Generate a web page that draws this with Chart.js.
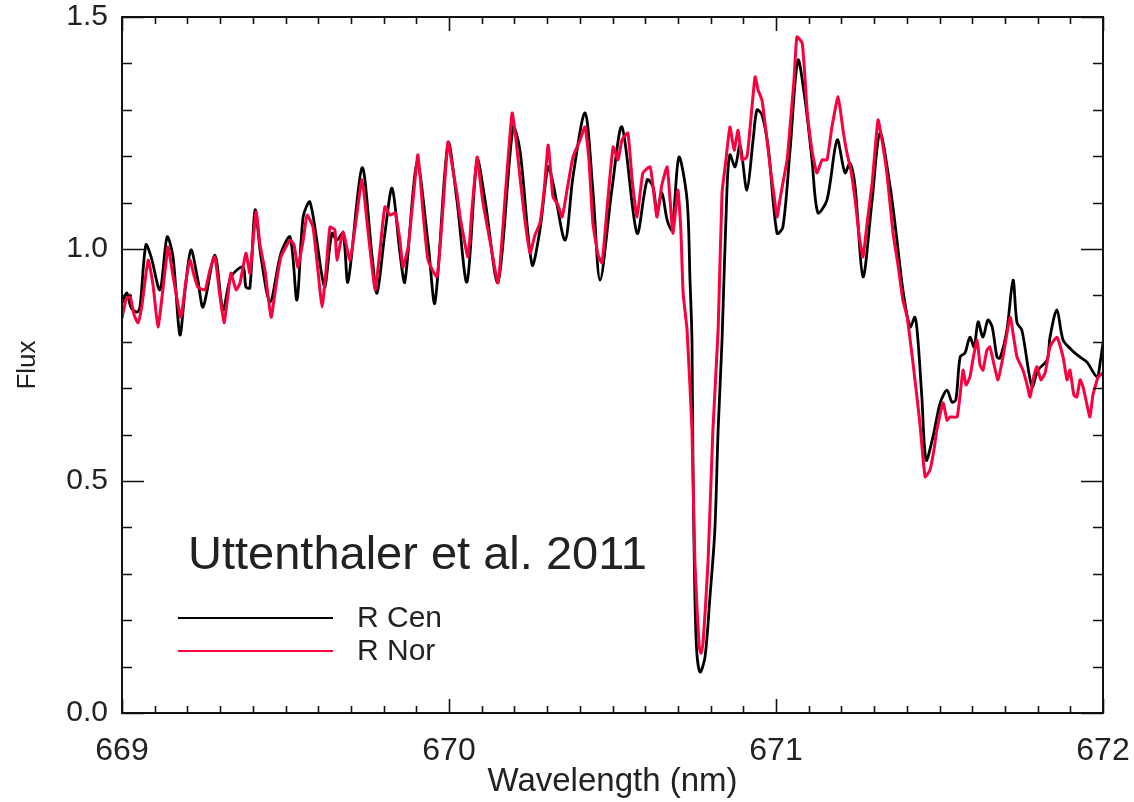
<!DOCTYPE html>
<html>
<head>
<meta charset="utf-8">
<script src="https://cdn.jsdelivr.net/npm/chart.js@4/dist/chart.umd.min.js"></script>
<style>
  body { margin: 0; background: #fff; }
  #wrap { width: 1134px; height: 802px; position: relative; }
</style>
</head>
<body>
<div id="wrap"><canvas id="spectrum"></canvas></div>
<script>
// ------------------ Data ------------------
const xTickLabels = [669, 670, 671, 672];
const yTickLabels = [0.0, 0.5, 1.0, 1.5];
const seriesNames = ['R Cen', 'R Nor'];
const annotationText = 'Uttenthaler et al. 2011';

// R Cen (black)
const cenWave = [
  669.000, 669.015, 669.028, 669.046, 669.055, 669.073, 669.089, 669.116, 669.138, 669.156,
  669.177, 669.193, 669.211, 669.232, 669.248, 669.284, 669.309, 669.333, 669.370, 669.379,
  669.391, 669.407, 669.425, 669.453, 669.486, 669.514, 669.535, 669.554, 669.575, 669.612,
  669.621, 669.642, 669.657, 669.676, 669.691, 669.734, 669.765, 669.780, 669.804, 669.826,
  669.850, 669.865, 669.902, 669.936, 669.957, 669.997, 670.024, 670.055, 670.086, 670.110,
  670.150, 670.196, 670.217, 670.254, 670.278, 670.303, 670.318, 670.355, 670.379, 670.416,
  670.440, 670.462, 670.498, 670.529, 670.575, 670.606, 670.624, 670.636, 670.651, 670.667,
  670.682, 670.703, 670.728, 670.737, 670.743, 670.746, 670.752, 670.758, 670.768, 670.783,
  670.798, 670.813, 670.823, 670.835, 670.850, 670.859, 670.875, 670.890, 670.911, 670.930,
  670.942, 670.957, 670.976, 671.003, 671.021, 671.043, 671.067, 671.089, 671.110, 671.128,
  671.156, 671.187, 671.211, 671.226, 671.242, 671.266, 671.294, 671.318, 671.349, 671.370,
  671.388, 671.410, 671.425, 671.434, 671.446, 671.459, 671.480, 671.502, 671.523, 671.538,
  671.550, 671.563, 671.578, 671.593, 671.606, 671.618, 671.633, 671.648, 671.661, 671.676,
  671.685, 671.706, 671.725, 671.737, 671.752, 671.783, 671.801, 671.829, 671.838, 671.859,
  671.878, 671.905, 671.930, 671.951, 671.982, 671.991, 672.000
];
const cenFlux = [
  0.884, 0.905, 0.873, 0.864, 0.875, 1.009, 0.983, 0.912, 1.026, 0.983,
  0.815, 0.912, 0.998, 0.933, 0.875, 0.987, 0.869, 0.940, 0.961, 0.918,
  0.916, 1.084, 0.983, 0.886, 0.991, 1.026, 0.890, 1.069, 1.101, 0.940,
  0.918, 1.034, 1.019, 1.034, 0.929, 1.175, 0.983, 0.905, 1.034, 1.131,
  0.991, 0.929, 1.185, 1.013, 0.884, 1.228, 1.106, 0.929, 1.192, 1.106,
  0.929, 1.263, 1.213, 0.966, 1.041, 1.177, 1.142, 1.019, 1.155, 1.293,
  1.127, 0.933, 1.127, 1.263, 1.034, 1.149, 1.134, 1.078, 1.121, 1.063,
  1.041, 1.198, 1.106, 0.933, 0.804, 0.539, 0.250, 0.129, 0.088, 0.121,
  0.250, 0.394, 0.610, 0.804, 1.127, 1.203, 1.177, 1.224, 1.127, 1.235,
  1.300, 1.289, 1.220, 1.034, 1.047, 1.213, 1.407, 1.321, 1.192, 1.078,
  1.106, 1.235, 1.164, 1.185, 1.134, 0.940, 1.106, 1.250, 1.134, 1.019,
  0.912, 0.832, 0.853, 0.804, 0.681, 0.545, 0.595, 0.668, 0.696, 0.670,
  0.675, 0.767, 0.776, 0.810, 0.789, 0.843, 0.810, 0.847, 0.832, 0.767,
  0.765, 0.825, 0.933, 0.841, 0.825, 0.703, 0.739, 0.761, 0.810, 0.869,
  0.804, 0.782, 0.767, 0.756, 0.724, 0.754, 0.797
];

// R Nor (red)
const norWave = [
  669.000, 669.012, 669.024, 669.037, 669.049, 669.061, 669.080, 669.095, 669.110, 669.125,
  669.141, 669.153, 669.165, 669.180, 669.196, 669.208, 669.220, 669.232, 669.254, 669.269,
  669.284, 669.297, 669.312, 669.324, 669.333, 669.349, 669.361, 669.379, 669.391, 669.410,
  669.422, 669.437, 669.456, 669.471, 669.486, 669.514, 669.526, 669.538, 669.554, 669.566,
  669.584, 669.599, 669.612, 669.624, 669.636, 669.651, 669.657, 669.676, 669.697, 669.716,
  669.734, 669.752, 669.774, 669.789, 669.804, 669.820, 669.835, 669.850, 669.859, 669.875,
  669.890, 669.905, 669.920, 669.936, 669.963, 669.979, 669.997, 670.012, 670.024, 670.034,
  670.058, 670.070, 670.086, 670.095, 670.104, 670.125, 670.150, 670.171, 670.193, 670.205,
  670.217, 670.232, 670.248, 670.263, 670.278, 670.291, 670.303, 670.312, 670.318, 670.333,
  670.346, 670.361, 670.379, 670.401, 670.416, 670.428, 670.440, 670.456, 670.468, 670.483,
  670.502, 670.517, 670.529, 670.547, 670.560, 670.575, 670.593, 670.615, 670.627, 670.636,
  670.651, 670.667, 670.676, 670.685, 670.700, 670.709, 670.716, 670.728, 670.743, 670.752,
  670.765, 670.771, 670.777, 670.792, 670.807, 670.823, 670.835, 670.847, 670.859, 670.872,
  670.884, 670.896, 670.911, 670.920, 670.936, 670.945, 670.957, 670.969, 670.982, 670.994,
  671.003, 671.012, 671.021, 671.034, 671.043, 671.055, 671.064, 671.080, 671.089, 671.095,
  671.110, 671.125, 671.141, 671.156, 671.171, 671.190, 671.205, 671.217, 671.229, 671.242,
  671.254, 671.266, 671.278, 671.294, 671.312, 671.324, 671.339, 671.358, 671.373, 671.388,
  671.401, 671.419, 671.440, 671.456, 671.471, 671.483, 671.492, 671.511, 671.523, 671.532,
  671.554, 671.572, 671.581, 671.593, 671.602, 671.615, 671.624, 671.633, 671.645, 671.654,
  671.667, 671.679, 671.694, 671.716, 671.728, 671.737, 671.755, 671.768, 671.777, 671.789,
  671.798, 671.810, 671.823, 671.838, 671.859, 671.878, 671.890, 671.899, 671.911, 671.920,
  671.930, 671.939, 671.951, 671.960, 671.969, 671.976, 671.985, 672.000
];
const norFlux = [
  0.851, 0.890, 0.901, 0.858, 0.841, 0.879, 0.976, 0.922, 0.832, 0.912,
  1.004, 0.955, 0.905, 0.853, 0.933, 0.976, 0.944, 0.918, 0.912, 0.955,
  0.983, 0.912, 0.841, 0.901, 0.948, 0.912, 0.927, 0.991, 0.948, 1.080,
  1.009, 0.955, 0.853, 0.922, 0.983, 1.019, 1.009, 0.961, 1.019, 1.073,
  1.047, 0.955, 0.875, 0.955, 1.047, 1.041, 0.976, 1.037, 0.976, 1.063,
  1.149, 1.041, 0.912, 0.998, 1.091, 1.073, 1.078, 1.019, 0.961, 1.004,
  1.106, 1.203, 1.084, 0.976, 0.940, 1.063, 1.231, 1.170, 1.121, 1.069,
  0.983, 1.084, 1.198, 1.149, 1.099, 1.019, 0.927, 1.106, 1.293, 1.235,
  1.155, 1.063, 0.991, 1.030, 1.056, 1.127, 1.224, 1.159, 1.112, 1.095,
  1.069, 1.127, 1.198, 1.235, 1.263, 1.192, 1.056, 0.987, 0.970, 1.084,
  1.220, 1.192, 1.235, 1.250, 1.149, 1.069, 1.164, 1.177, 1.116, 1.069,
  1.138, 1.177, 1.106, 1.034, 1.127, 1.041, 0.905, 0.825, 0.610, 0.323,
  0.142, 0.129, 0.151, 0.323, 0.610, 0.825, 1.121, 1.192, 1.263, 1.213,
  1.256, 1.192, 1.198, 1.256, 1.371, 1.343, 1.321, 1.256, 1.177, 1.116,
  1.069, 1.106, 1.142, 1.192, 1.263, 1.364, 1.457, 1.444, 1.364, 1.300,
  1.213, 1.164, 1.192, 1.192, 1.263, 1.328, 1.256, 1.207, 1.170, 1.106,
  1.030, 0.983, 1.052, 1.142, 1.278, 1.235, 1.164, 1.034, 0.966, 0.890,
  0.853, 0.754, 0.625, 0.509, 0.524, 0.567, 0.610, 0.668, 0.631, 0.638,
  0.638, 0.739, 0.707, 0.724, 0.761, 0.804, 0.750, 0.739, 0.782, 0.789,
  0.750, 0.718, 0.767, 0.853, 0.804, 0.767, 0.739, 0.707, 0.681, 0.728,
  0.746, 0.718, 0.733, 0.789, 0.810, 0.767, 0.718, 0.739, 0.685, 0.681,
  0.718, 0.703, 0.664, 0.638, 0.685, 0.703, 0.724, 0.733
];

// ------------------ Styles ------------------
const cenColor = '#000000';
const norColor = 'rgb(250, 0, 62)';
const textColor = '#222222';
const fontFamily = '"Liberation Sans", Arial, sans-serif';

function toPoints(xs, ys) {
    return xs.map(function(x, i) { return { x: x, y: ys[i] }; });
}

// inward ticks on all four sides + frame, legend and label
const framePlugin = {
    id: 'frame',
    afterDraw: function(chart) {
        const ctx = chart.ctx;
        const area = chart.chartArea;
        const xs = chart.scales.x;
        const ys = chart.scales.y;
        ctx.save();
        ctx.strokeStyle = '#111';
        ctx.lineWidth = 2;
        ctx.strokeRect(area.left, area.top, area.right - area.left, area.bottom - area.top);

        ctx.beginPath();
        for (let i = 0; i <= 30; i++) {
            const v = xTickLabels[0] + i * 0.1;
            const px = Math.round(xs.getPixelForValue(v)) + 0.5;
            const len = (i % 10 === 0) ? 14 : 7;
            ctx.moveTo(px, area.bottom); ctx.lineTo(px, area.bottom - len);
            ctx.moveTo(px, area.top); ctx.lineTo(px, area.top + len);
        }
        for (let j = 0; j <= 15; j++) {
            const v = j * 0.1;
            const py = Math.round(ys.getPixelForValue(v)) + 0.5;
            const len = (j % 5 === 0) ? 22 : 10;
            ctx.moveTo(area.left, py); ctx.lineTo(area.left + len, py);
            ctx.moveTo(area.right, py); ctx.lineTo(area.right - len, py);
        }
        ctx.lineWidth = 1.6;
        ctx.stroke();

        // annotation
        ctx.fillStyle = textColor;
        ctx.textBaseline = 'middle';
        ctx.textAlign = 'left';
        ctx.font = '47px ' + fontFamily;
        ctx.fillText(annotationText, 188, 556);

        // legend
        const legendColors = [cenColor, norColor];
        const legendY = [618, 651];
        ctx.font = '30px ' + fontFamily;
        for (let k = 0; k < seriesNames.length; k++) {
            ctx.beginPath();
            ctx.strokeStyle = legendColors[k];
            ctx.lineWidth = 2;
            ctx.moveTo(178, legendY[k]);
            ctx.lineTo(333, legendY[k]);
            ctx.stroke();
            ctx.fillStyle = textColor;
            ctx.fillText(seriesNames[k], 357, legendY[k] + 1);
        }
        ctx.restore();
    }
};

const ctx = document.getElementById('spectrum').getContext('2d');
new Chart(ctx, {
    type: 'scatter',
    data: {
        datasets: [{
            label: seriesNames[1],
            data: toPoints(norWave, norFlux),
            showLine: true,
            borderColor: norColor,
            borderWidth: 3,
            pointRadius: 0,
            tension: 0.15,
            order: 1
        }, {
            label: seriesNames[0],
            data: toPoints(cenWave, cenFlux),
            showLine: true,
            borderColor: cenColor,
            borderWidth: 2.8,
            pointRadius: 0,
            tension: 0.3,
            order: 2
        }]
    },
    options: {
        responsive: true,
        maintainAspectRatio: false,
        animation: false,
        layout: { padding: { top: 17, right: 31, left: 0, bottom: 0 } },
        plugins: {
            legend: { display: false },
            tooltip: { enabled: false }
        },
        scales: {
            x: {
                type: 'linear',
                min: xTickLabels[0],
                max: xTickLabels[xTickLabels.length - 1],
                afterFit: function(scale) {
                    scale.height = 89;
                    scale.paddingLeft = 0;
                    scale.paddingRight = 0;
                },
                afterBuildTicks: function(scale) {
                    scale.ticks = xTickLabels.map(function(v) { return { value: v }; });
                },
                grid: { display: false, drawTicks: false },
                border: { display: false },
                ticks: {
                    padding: 19,
                    color: textColor,
                    font: { family: fontFamily, size: 32 },
                    callback: function(v) { return String(v); }
                },
                title: {
                    display: true,
                    text: 'Wavelength (nm)',
                    color: textColor,
                    font: { family: fontFamily, size: 33 },
                    padding: { top: 0, bottom: 0 }
                }
            },
            y: {
                type: 'linear',
                min: yTickLabels[0],
                max: yTickLabels[yTickLabels.length - 1],
                afterFit: function(scale) {
                    scale.width = 122;
                    scale.paddingTop = 0;
                    scale.paddingBottom = 0;
                },
                afterBuildTicks: function(scale) {
                    scale.ticks = yTickLabels.map(function(v) { return { value: v }; });
                },
                grid: { display: false, drawTicks: false },
                border: { display: false },
                ticks: {
                    padding: 14,
                    color: textColor,
                    font: { family: fontFamily, size: 30 },
                    callback: function(v) { return Number(v).toFixed(1); }
                },
                title: {
                    display: true,
                    text: 'Flux',
                    color: textColor,
                    font: { family: fontFamily, size: 26 },
                    padding: { top: 12, bottom: 0 }
                }
            }
        }
    },
    plugins: [framePlugin]
});
</script>
</body>
</html>
